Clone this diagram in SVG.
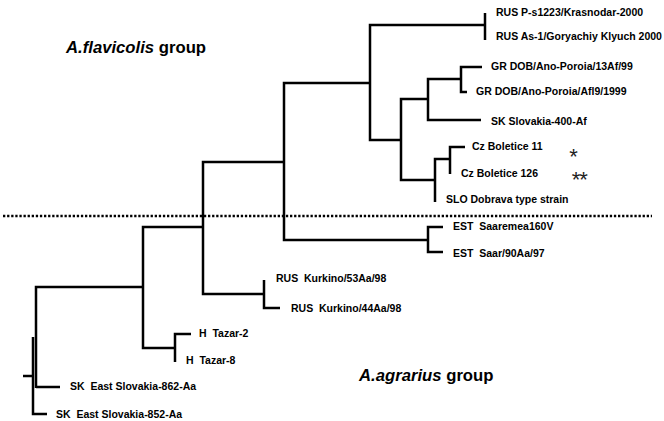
<svg xmlns="http://www.w3.org/2000/svg" width="664" height="421" viewBox="0 0 664 421">
<style>
.br{fill:none;stroke:#000;stroke-width:2.5;stroke-linecap:butt;stroke-linejoin:miter}
.lb{font-family:"Liberation Sans",Arial,sans-serif;font-size:10.5px;font-weight:bold;fill:#000;white-space:pre}
.gp{font-family:"Liberation Sans",Arial,sans-serif;font-size:16.7px;font-weight:bold;fill:#000}
.ast{font-family:"Liberation Sans",Arial,sans-serif;font-size:22px;fill:#222;text-anchor:middle}
</style>
<rect width="664" height="421" fill="#fff"/>
<line x1="3" y1="216" x2="652" y2="216" stroke="#000" stroke-width="2.3" stroke-dasharray="2.3 1.8"/>
<g id="groups">
<text class="gp" x="66" y="52.5"><tspan font-style="italic">A.flavicolis</tspan> group</text>
<text class="gp" x="359" y="381"><tspan font-style="italic">A.agrarius</tspan> group</text>
</g>
<g id="connectors">
<path class="br" d="M23,376 H33"/>
<path class="br" d="M33,337 V414 H47"/>
<path class="br" d="M36,387 H60 M36,388 V287 H143"/>
<path class="br" d="M203,227 H143 V348 H175"/>
<path class="br" d="M191,334 H175 V362"/>
<path class="br" d="M284,162 H203 V294 H264"/>
<path class="br" d="M264,280 V308 H280"/>
<path class="br" d="M370,83 H284 V240 H428"/>
<path class="br" d="M443,227 H428 V252 H443"/>
<path class="br" d="M485,25 H370 V140 H401"/>
<path class="br" d="M485,13 V40"/>
<path class="br" d="M428,99 H401 V180 H435"/>
<path class="br" d="M461,79 H428 V120 H481"/>
<path class="br" d="M482,67 H461 V92 H467"/>
<path class="br" d="M450,159 H435 V202"/>
<path class="br" d="M465,147 H450 V174"/>
</g>
<g id="n-rus-ps1223"><text class="lb" x="496" y="16">RUS P-s1223/Krasnodar-2000</text></g>
<g id="n-rus-as1"><text class="lb" x="496" y="40">RUS As-1/Goryachiy Klyuch 2000</text></g>
<g id="n-gr-13af"><text class="lb" x="491" y="70">GR DOB/Ano-Poroia/13Af/99</text></g>
<g id="n-gr-afl9"><text class="lb" x="476" y="95">GR DOB/Ano-Poroia/Afl9/1999</text></g>
<g id="n-sk-400"><text class="lb" x="491" y="125">SK Slovakia-400-Af</text></g>
<g id="n-cz-11"><text class="lb" x="472" y="150">Cz Boletice 11</text><text class="ast" x="573.5" y="164">*</text></g>
<g id="n-cz-126"><text class="lb" x="461" y="177">Cz Boletice 126</text><text class="ast" x="576" y="187">*</text><text class="ast" x="583.5" y="187">*</text></g>
<g id="n-slo"><text class="lb" x="446" y="203">SLO Dobrava type strain</text></g>
<g id="n-est-160v"><text class="lb" x="453" y="230">EST  Saaremea160V</text></g>
<g id="n-est-90aa"><text class="lb" x="453" y="257">EST  Saar/90Aa/97</text></g>
<g id="n-rus-53aa"><text class="lb" x="276" y="282">RUS  Kurkino/53Aa/98</text></g>
<g id="n-rus-44aa"><text class="lb" x="291" y="312">RUS  Kurkino/44Aa/98</text></g>
<g id="n-h-tazar2"><text class="lb" x="199" y="337">H  Tazar-2</text></g>
<g id="n-h-tazar8"><text class="lb" x="186" y="364">H  Tazar-8</text></g>
<g id="n-sk-862"><text class="lb" x="70" y="390">SK  East Slovakia-862-Aa</text></g>
<g id="n-sk-852"><text class="lb" x="56" y="418">SK  East Slovakia-852-Aa</text></g>
</svg>
